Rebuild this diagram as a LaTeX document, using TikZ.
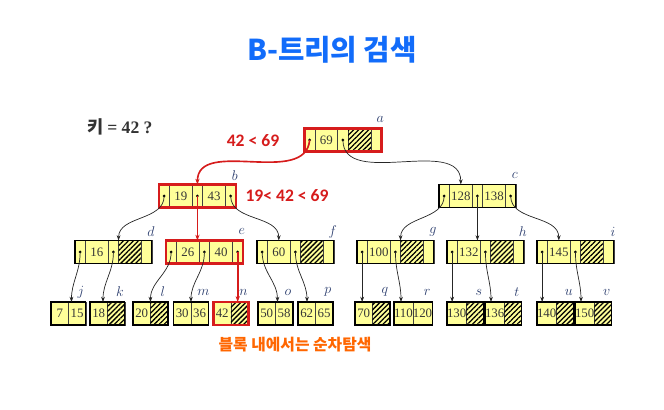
\documentclass[tikz,border=0pt]{standalone}
\usepackage{fontspec}
\newfontfamily\krfont{Noto Sans CJK KR}
\newfontfamily\numfont{Carlito}
\newfontfamily\keyfont{Liberation Serif}
\usetikzlibrary{arrows.meta,positioning,calc,patterns.meta}

\definecolor{cellfill}{RGB}{255,255,153}
\definecolor{hitred}{RGB}{214,28,28}
\definecolor{titleblue}{RGB}{18,108,250}
\definecolor{namecol}{RGB}{44,62,110}
\definecolor{numcol}{RGB}{55,55,55}
\definecolor{noteorange}{RGB}{255,102,0}

\tikzset{
  cell/.style={draw=black!75, line width=0.5pt, fill=cellfill, inner sep=0pt, outer sep=0pt,
    minimum height=19.6pt, text=numcol, font=\keyfont\fontsize{11}{13}\selectfont},
  ptr/.style={cell, minimum width=8.8pt},
  keycell/.style={cell, minimum width=19.6pt},
  leafcell/.style={cell, minimum width=14.9pt},
  hatch/.style={postaction={pattern={Lines[angle=45,distance=3pt,line width=1.1pt]}, pattern color=black}},
  frame/.style={draw=black, line width=1pt},
  hit/.style={draw=hitred, line width=2pt},
  tag/.style={text=namecol, inner sep=0pt, font=\fontsize{12}{14}\selectfont},
  link/.style={-{Stealth[length=4.5pt,width=3.2pt]}, line width=0.6pt, black!85},
  hitlink/.style={-{Stealth[length=5pt,width=3.6pt]}, line width=1.4pt, hitred},
}

% internal node: [frame] name, west point, key 1, key 2 (empty = hatched)
\newcommand{\treenode}[5][frame]{%
  \node[ptr, anchor=west] (#2-p0) at (#3) {};
  \node[keycell, right=0pt of #2-p0] (#2-k1) {#4};
  \node[ptr, right=0pt of #2-k1] (#2-p1) {};
  \ifx\relax#5\relax
    \node[keycell, hatch, right=0pt of #2-p1] (#2-k2) {};
    \node[ptr, right=0pt of #2-k2] (#2-p2) {};
  \else
    \node[keycell, right=0pt of #2-p1] (#2-k2) {#5};
    \node[ptr, right=0pt of #2-k2] (#2-p2) {};
    \fill (#2-p2.center) circle (1.3pt);
  \fi
  \fill (#2-p0.center) circle (1.3pt) (#2-p1.center) circle (1.3pt);
  \draw[#1] (#2-p0.north west) rectangle (#2-p2.south east);
  \node[tag] (#2) at ($(#2-p2.north east)+(-1,-9)$) {$#2$};
}

% leaf node
\newcommand{\leafnode}[5][frame]{%
  \node[leafcell, anchor=west] (#2-k1) at (#3) {#4};
  \ifx\relax#5\relax
    \node[leafcell, hatch, right=0pt of #2-k1] (#2-k2) {};
  \else
    \node[leafcell, right=0pt of #2-k1] (#2-k2) {#5};
  \fi
  \draw[#1] (#2-k1.north west) rectangle (#2-k2.south east);
  \node[tag] (#2) at ($(#2-k2.north east)+(-5,-10)$) {$#2$};
}

\begin{document}
\begin{tikzpicture}[x=0.03cm, y=-0.03cm]
\useasboundingbox (0,0) rectangle (664,409);

\node[text=titleblue, font=\krfont\bfseries\fontsize{24.5}{28}\selectfont] (title) at (332,50) {B-트리의 검색};
\node[anchor=west, text=black!80, font=\fontsize{15}{17}\selectfont] (query) at (83,127)
  {\krfont\bfseries 키 \keyfont\bfseries = 42 ?};

% tree
\treenode[hit]{a}{304.5,140}{69}{}
\treenode[hit]{b}{159,196}{19}{43}
\treenode{c}{439,196}{128}{138}
\treenode{d}{75,252}{16}{}
\treenode[hit]{e}{166,252}{26}{40}
\treenode{f}{257,252}{60}{}
\treenode{g}{357,252}{100}{}
\treenode{h}{447,252}{132}{}
\treenode{i}{537,252}{145}{}

\leafnode{j}{51,313.5}{7}{15}
\leafnode{k}{90,313.5}{18}{}
\leafnode{l}{133,313.5}{20}{}
\leafnode{m}{173.5,313.5}{30}{36}
\leafnode[hit]{n}{213.5,313.5}{42}{}
\leafnode{o}{258,313.5}{50}{58}
\leafnode{p}{298,313.5}{62}{65}
\leafnode{q}{355,313.5}{70}{}
\leafnode{r}{394,313.5}{110}{120}
\leafnode{s}{447,313.5}{130}{}
\leafnode{t}{485,313.5}{136}{}
\leafnode{u}{537,313.5}{140}{}
\leafnode{v}{575,313.5}{150}{}

% pointers
\draw[hitlink] (a-p0.center) to[out=-95,in=90] (b-p1.north);
\draw[link] (a-p1.center) to[out=-90,in=90] (c-k1.north);
\draw[link] (b-p0.center) to[out=-90,in=90] (d-k2.north west);
\draw[hitlink] (b-p1.center) -- (b-p1.center |- e-k1.north);
\draw[link] (b-p2.center) to[out=-90,in=90] (f-k1.north);
\draw[link] (c-p0.center) to[out=-90,in=90] (g-k2.north west);
\draw[link] (c-p1.center) -- (c-p1.center |- h-k1.north);
\draw[link] (c-p2.center) to[out=-90,in=90] (i-k1.north);

\draw[link] (d-p0.center) to[out=-90,in=90] ($(j-k1.north east)+(3,0)$);
\draw[link] (d-p1.center) to[out=-90,in=90] ($(k-k1.north west)+(13,0)$);
\draw[link] (e-p0.center) to[out=-90,in=90] (l-k1.north east);
\draw[link] (e-p1.center) to[out=-90,in=90] (m-k1.north east);
\draw[hitlink] (e-p2.center) -- (e-p2.center |- n-k2.north);
\draw[link] (f-p0.center) to[out=-90,in=90] ($(o-k1.north east)+(2,0)$);
\draw[link] (f-p1.center) to[out=-90,in=90] ($(p-k1.north west)+(9,0)$);
\draw[link] (g-p0.center) -- (g-p0.center |- q-k1.north);
\draw[link] (g-p1.center) to[out=-90,in=90] ($(r-k1.north west)+(7,0)$);
\draw[link] (h-p0.center) -- (h-p0.center |- s-k1.north);
\draw[link] (h-p1.center) to[out=-90,in=90] ($(t-k1.north west)+(6,0)$);
\draw[link] (i-p0.center) -- (i-p0.center |- u-k1.north);
\draw[link] (i-p1.center) to[out=-90,in=90] ($(v-k1.north west)+(6,0)$);

% comparisons
\node[text=hitred, font=\numfont\bfseries\fontsize{15}{17}\selectfont] (cmp1) at (253,140.7) {42 < 69};
\node[text=hitred, font=\numfont\bfseries\fontsize{15}{17}\selectfont] (cmp2) at (287,195.7) {19< 42 < 69};
\node[text=noteorange, font=\krfont\bfseries\fontsize{13.5}{16}\selectfont] (note) at (295,345) {블록 내에서는 순차탐색};
\end{tikzpicture}
\end{document}
